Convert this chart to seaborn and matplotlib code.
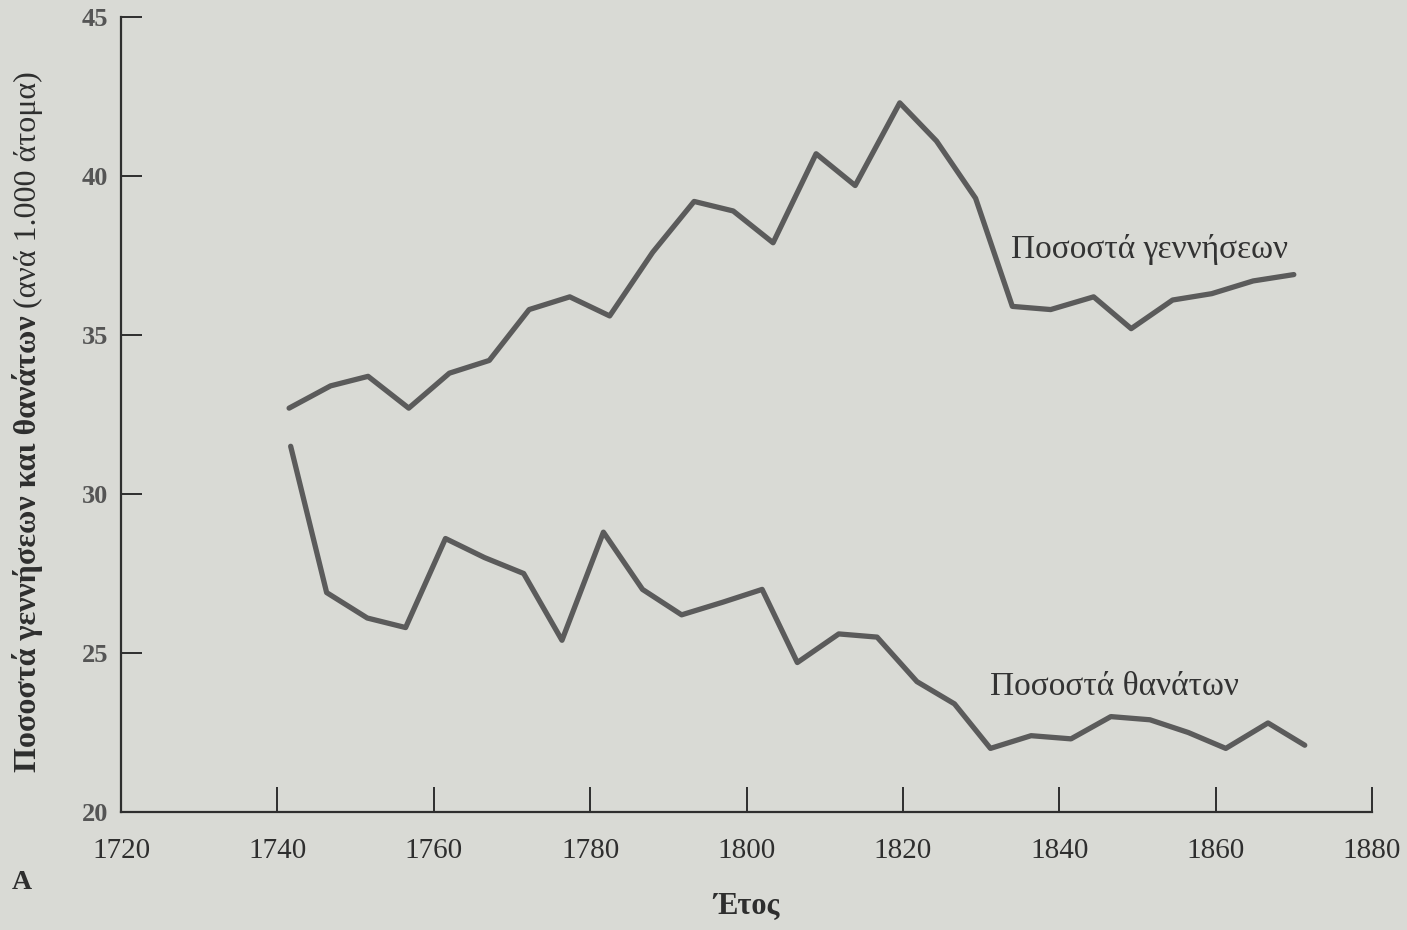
import pandas as pd
import matplotlib
matplotlib.use("Agg")
import matplotlib.pyplot as plt
import seaborn as sns

# -------------------------------
# Data
# -------------------------------
years_births = [1741.5, 1746.8, 1751.6, 1756.8, 1762.0, 1767.1, 1772.2, 1777.4, 1782.5,
                1788.0, 1793.3, 1798.3, 1803.4, 1808.9, 1813.9, 1819.6, 1824.3, 1829.3,
                1834.0, 1838.9, 1844.4, 1849.2, 1854.5, 1859.5, 1864.8, 1870.0]
births = [32.7, 33.4, 33.7, 32.7, 33.8, 34.2, 35.8, 36.2, 35.6,
          37.6, 39.2, 38.9, 37.9, 40.7, 39.7, 42.3, 41.1, 39.3,
          35.9, 35.8, 36.2, 35.2, 36.1, 36.3, 36.7, 36.9]

years_deaths = [1741.7, 1746.3, 1751.5, 1756.4, 1761.5, 1766.5, 1771.5, 1776.4, 1781.7,
                1786.7, 1791.7, 1797.0, 1802.0, 1806.5, 1811.8, 1816.7, 1821.8, 1826.6,
                1831.2, 1836.4, 1841.5, 1846.6, 1851.6, 1856.5, 1861.3, 1866.7, 1871.4]
deaths = [31.5, 26.9, 26.1, 25.8, 28.6, 28.0, 27.5, 25.4, 28.8,
          27.0, 26.2, 26.6, 27.0, 24.7, 25.6, 25.5, 24.1, 23.4,
          22.0, 22.4, 22.3, 23.0, 22.9, 22.5, 22.0, 22.8, 22.1]

x_ticks = [1720, 1740, 1760, 1780, 1800, 1820, 1840, 1860, 1880]
y_ticks = [20, 25, 30, 35, 40, 45]

label_births = "Ποσοστά γεννήσεων"
label_deaths = "Ποσοστά θανάτων"

df = pd.concat([
    pd.DataFrame({"Έτος": years_births, "Τιμή": births, "Σειρά": label_births}),
    pd.DataFrame({"Έτος": years_deaths, "Τιμή": deaths, "Σειρά": label_deaths}),
])

# -------------------------------
# Style
# -------------------------------
sns.set_style("ticks")
paper = "#d9dad5"
ink = "#2e2e2e"
line_col = "#5b5b5b"
plt.rcParams["font.family"] = ["Liberation Serif", "DejaVu Serif"]

fig = plt.figure(figsize=(14.07, 9.30), dpi=100, facecolor=paper)
ax = fig.add_axes([121 / 1407, 1 - 812 / 930, (1372 - 121) / 1407, (812 - 17) / 930])
ax.set_facecolor(paper)

sns.lineplot(data=df, x="Έτος", y="Τιμή", hue="Σειρά",
             palette={label_births: line_col, label_deaths: line_col},
             linewidth=3.8, legend=False, ax=ax, sort=False)

ax.set_xlim(1720, 1880)
ax.set_ylim(20, 45)
ax.set_xticks(x_ticks)
ax.set_yticks(y_ticks)
ax.set_xticklabels([str(t) for t in x_ticks], fontsize=21, color=ink)
ax.set_yticklabels([str(t) for t in y_ticks], fontsize=19, fontweight="bold", color="#555555")
ax.tick_params(axis="x", direction="in", length=18, width=1.4, color=ink, pad=19)
ax.tick_params(axis="y", direction="in", length=15, width=1.4, color=ink, pad=9)

sns.despine(ax=ax)
for s in ["left", "bottom"]:
    ax.spines[s].set_color(ink)
    ax.spines[s].set_linewidth(1.6)

ax.set_xlabel("Έτος", fontsize=22, fontweight="bold", color=ink, labelpad=20)
ax.set_ylabel("")

# series labels
ax.text(1833.8, 37.7, label_births, fontsize=24, color="#333333", va="center", ha="left")
ax.text(1831.2, 23.95, label_deaths, fontsize=24, color="#333333", va="center", ha="left")

# y-axis title: bold part + normal part in parentheses
t1 = fig.text(28 / 1407, 1 - 772 / 930, "Ποσοστά γεννήσεων και θανάτων", rotation=90,
              fontsize=23, fontweight="bold", color=ink, ha="center", va="bottom")
ax.annotate("(ανά 1.000 άτομα)", xy=(0.5, 1.0), xycoords=t1, xytext=(0, 5),
            textcoords="offset points", rotation=90, fontsize=23, color=ink,
            ha="center", va="bottom")

fig.text(12 / 1407, 1 - 882 / 930, "A", fontsize=20, fontweight="bold", color=ink,
         ha="left", va="center")

fig.savefig("out.png", dpi=100, facecolor=paper)
